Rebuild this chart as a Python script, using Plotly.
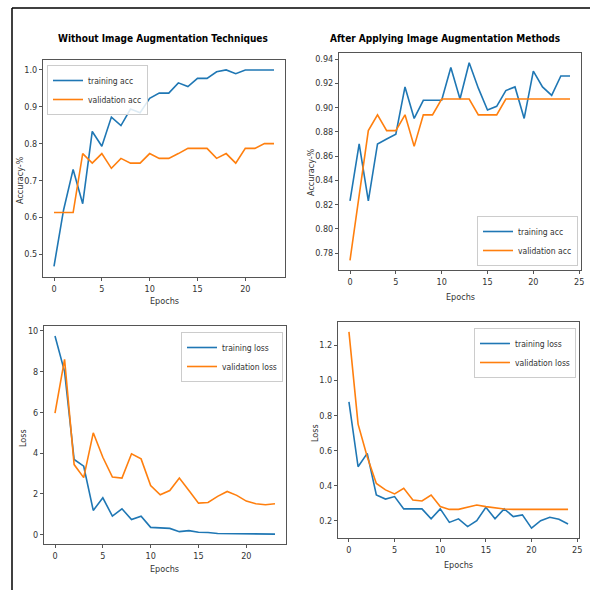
import plotly.graph_objects as go

# ---------------- data ----------------
epochs_a = list(range(24))
train_acc_a = [0.467, 0.62, 0.73, 0.637, 0.833, 0.793, 0.872, 0.849, 0.894, 0.884, 0.923, 0.937,
               0.937, 0.965, 0.955, 0.977, 0.977, 0.995, 1.0, 0.99, 1.0, 1.0, 1.0, 1.0]
val_acc_a = [0.613, 0.613, 0.613, 0.773, 0.747, 0.773, 0.733, 0.76, 0.747, 0.747, 0.773, 0.76,
             0.76, 0.773, 0.787, 0.787, 0.787, 0.76, 0.773, 0.747, 0.787, 0.787, 0.80, 0.80]

epochs_b = list(range(25))
train_acc_b = [0.823, 0.870, 0.823, 0.870, 0.874, 0.878, 0.917, 0.891, 0.906, 0.906, 0.906, 0.933,
               0.907, 0.937, 0.916, 0.898, 0.901, 0.914, 0.917, 0.891, 0.930, 0.917, 0.910, 0.926, 0.926]
val_acc_b = [0.774, 0.827, 0.881, 0.894, 0.881, 0.881, 0.894, 0.868, 0.894, 0.894, 0.907, 0.907,
             0.907, 0.907, 0.894, 0.894, 0.894, 0.907, 0.907, 0.907, 0.907, 0.907, 0.907, 0.907, 0.907]

train_loss_a = [9.75, 8.0, 3.69, 3.36, 1.19, 1.81, 0.91, 1.27, 0.74, 0.91, 0.36, 0.35,
                0.31, 0.15, 0.20, 0.12, 0.11, 0.06, 0.05, 0.06, 0.04, 0.04, 0.04, 0.03]
val_loss_a = [5.96, 8.6, 3.44, 2.8, 5.0, 3.8, 2.83, 2.78, 3.97, 3.72, 2.41, 1.96,
              2.17, 2.78, 2.17, 1.55, 1.58, 1.88, 2.12, 1.93, 1.65, 1.52, 1.47, 1.52]

train_loss_b = [0.877, 0.507, 0.583, 0.346, 0.323, 0.337, 0.267, 0.267, 0.267, 0.21, 0.267, 0.19,
                0.21, 0.166, 0.20, 0.276, 0.21, 0.267, 0.223, 0.233, 0.157, 0.20, 0.219, 0.208, 0.181]
val_loss_b = [1.276, 0.75, 0.564, 0.412, 0.375, 0.352, 0.384, 0.318, 0.312, 0.346, 0.28, 0.264,
              0.264, 0.276, 0.289, 0.28, 0.272, 0.266, 0.264, 0.264, 0.264, 0.264, 0.264, 0.264, 0.264]

titles = ["Without Image Augmentation Techniques", "After Applying Image Augmentation Methods"]
x_title = "Epochs"
y_titles = ["Accuracy-%", "Accuracy-%", "Loss", "Loss"]

BLUE = "#1f77b4"
ORANGE = "#ff7f0e"
FONT = "DejaVu Sans Condensed, Liberation Sans Narrow, Open Sans, sans-serif"
TICKC = "#333333"

fig = go.Figure()

def add(x, y, name, color, xa, ya, legend):
    fig.add_trace(go.Scatter(x=x, y=y, mode="lines", name=name,
                             line=dict(color=color, width=1.6),
                             xaxis=xa, yaxis=ya, legend=legend))

add(epochs_a, train_acc_a, "training acc", BLUE, "x", "y", "legend")
add(epochs_a, val_acc_a, "validation acc", ORANGE, "x", "y", "legend")
add(epochs_b, train_acc_b, "training acc", BLUE, "x2", "y2", "legend2")
add(epochs_b, val_acc_b, "validation acc", ORANGE, "x2", "y2", "legend2")
add(epochs_a, train_loss_a, "training loss", BLUE, "x3", "y3", "legend3")
add(epochs_a, val_loss_a, "validation loss", ORANGE, "x3", "y3", "legend3")
add(epochs_b, train_loss_b, "training loss", BLUE, "x4", "y4", "legend4")
add(epochs_b, val_loss_b, "validation loss", ORANGE, "x4", "y4", "legend4")

W = H = 590.0
def px_x(v): return v / W
def px_y(v): return 1 - v / H

axis_common = dict(showgrid=False, zeroline=False, showline=True, linecolor="#555555",
                   linewidth=1, mirror=True, ticks="outside", ticklen=3, tickcolor="#555555",
                   automargin=False,
                   tickfont=dict(size=9, color=TICKC, family=FONT))

def xaxis(domain, rng, anchor):
    d = dict(axis_common)
    d.update(domain=domain, range=rng, anchor=anchor, tickmode="array",
             tickvals=[0, 5, 10, 15, 20, 25])
    return d

def yaxis(domain, rng, anchor, tickvals, fmt):
    d = dict(axis_common)
    d.update(domain=domain, range=rng, anchor=anchor, tickmode="array",
             tickvals=tickvals, tickformat=fmt)
    return d

layout = dict(
    width=590, height=590, margin=dict(l=0, r=0, t=0, b=0, autoexpand=False),
    paper_bgcolor="white", plot_bgcolor="white", showlegend=True,
    font=dict(family=FONT, color=TICKC),
    xaxis=xaxis([px_x(43), px_x(285)], [-1.15, 24.15], "y"),
    yaxis=yaxis([px_y(277), px_y(60)], [0.438, 1.027], "x",
                [0.5, 0.6, 0.7, 0.8, 0.9, 1.0], ".1f"),
    xaxis2=xaxis([px_x(339), px_x(581)], [-1.2, 25.2], "y2"),
    yaxis2=yaxis([px_y(270), px_y(53)], [0.766, 0.945], "x2",
                 [0.78, 0.80, 0.82, 0.84, 0.86, 0.88, 0.90, 0.92, 0.94], ".2f"),
    xaxis3=xaxis([px_x(44), px_x(286)], [-1.15, 24.15], "y3"),
    yaxis3=yaxis([px_y(544), px_y(326)], [-0.456, 10.24], "x3",
                 [0, 2, 4, 6, 8, 10], "d"),
    xaxis4=xaxis([px_x(338), px_x(579)], [-1.2, 25.2], "y4"),
    yaxis4=yaxis([px_y(538), px_y(322)], [0.101, 1.332], "x4",
                 [0.2, 0.4, 0.6, 0.8, 1.0, 1.2], ".1f"),
)

legend_common = dict(bgcolor="rgba(255,255,255,0.85)", bordercolor="#cccccc", borderwidth=1,
                     font=dict(size=8.5, color=TICKC, family=FONT), tracegroupgap=0,
                     itemwidth=30)
layout["legend"] = dict(legend_common, x=px_x(47), y=px_y(65), xanchor="left", yanchor="top")
layout["legend2"] = dict(legend_common, x=px_x(578), y=px_y(266), xanchor="right", yanchor="bottom")
layout["legend3"] = dict(legend_common, x=px_x(283), y=px_y(332), xanchor="right", yanchor="top")
layout["legend4"] = dict(legend_common, x=px_x(576), y=px_y(328), xanchor="right", yanchor="top")

fig.update_layout(**layout)

def note(text, x, y, size=9, color=TICKC, angle=0):
    fig.add_annotation(text=text, x=px_x(x), y=px_y(y), xref="paper", yref="paper",
                       xanchor="center", yanchor="middle", textangle=angle,
                       showarrow=False, font=dict(size=size, color=color, family=FONT))

note("<b>" + titles[0] + "</b>", 163, 39, size=10, color="black")
note("<b>" + titles[1] + "</b>", 445, 39, size=10, color="black")

# axis titles
note(x_title, 164, 301)
note(x_title, 460, 297)
note(x_title, 164, 569)
note(x_title, 458, 565)
note(y_titles[0], 20, 180, angle=-90)
note(y_titles[1], 311, 172, angle=-90)
note(y_titles[2], 23, 438, angle=-90)
note(y_titles[3], 315, 433, angle=-90)

# outer frame lines
fig.add_shape(type="line", xref="paper", yref="paper", x0=px_x(12), x1=1.0, y0=px_y(8), y1=px_y(8),
              line=dict(color="black", width=1.5))
fig.add_shape(type="line", xref="paper", yref="paper", x0=px_x(12), x1=px_x(12), y0=px_y(8), y1=0,
              line=dict(color="black", width=1.5))

fig.write_html("out.html", config={"displayModeBar": False},
               post_script="document.body.style.margin='0';document.body.style.overflow='hidden';")
